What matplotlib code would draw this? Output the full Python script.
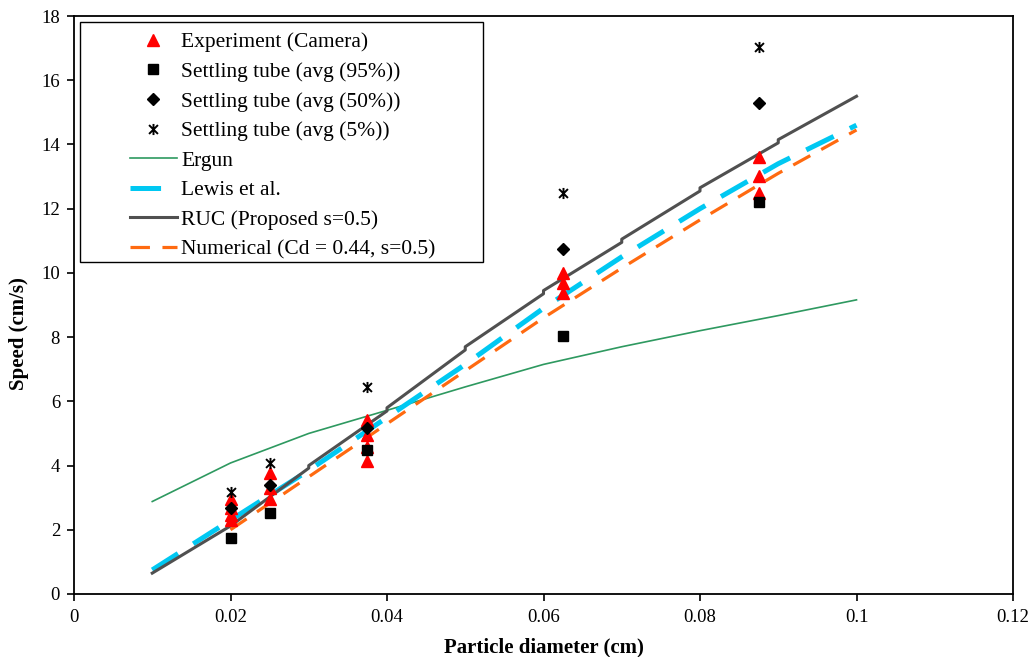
import matplotlib
matplotlib.use("Agg")
import matplotlib.pyplot as plt
from matplotlib.path import Path
from matplotlib.patches import Rectangle
from matplotlib.legend_handler import HandlerLine2D
import numpy as np

plt.rcParams['font.family'] = ['Liberation Serif', 'DejaVu Serif']
plt.rcParams['lines.scale_dashes'] = False

# ---- data ----
exp_x = [0.02, 0.02, 0.02, 0.02, 0.025, 0.025, 0.025,
         0.0375, 0.0375, 0.0375, 0.0375, 0.0625, 0.0625, 0.0625,
         0.0875, 0.0875, 0.0875]
exp_y = [2.96, 2.68, 2.46, 2.3, 3.77, 3.3, 2.96,
         5.42, 4.95, 4.58, 4.15, 10.0, 9.68, 9.37,
         13.62, 13.02, 12.48]

tube_x = [0.02, 0.025, 0.0375, 0.0625, 0.0875]
tube95 = [1.74, 2.52, 4.48, 8.03, 12.22]
tube50 = [2.68, 3.4, 5.17, 10.74, 15.28]
tube5 = [3.18, 4.08, 6.45, 12.49, 17.02]

ergun_x = [0.01, 0.02, 0.03, 0.04, 0.05, 0.06, 0.07, 0.08, 0.09, 0.1]
ergun_y = [2.88, 4.08, 5.0, 5.72, 6.45, 7.15, 7.7, 8.2, 8.67, 9.16]

lewis_x = [0.01, 0.02, 0.03, 0.04, 0.05, 0.06, 0.07, 0.08, 0.09, 0.1]
lewis_y = [0.75, 2.3, 3.85, 5.5, 7.15, 8.9, 10.5, 12.0, 13.4, 14.6]

ruc_x = [0.01, 0.02, 0.03, 0.03, 0.04, 0.04, 0.05, 0.05, 0.06, 0.06,
         0.07, 0.07, 0.08, 0.08, 0.09, 0.09, 0.1]
ruc_y = [0.65, 2.12, 3.92, 4.0, 5.7, 5.8, 7.6, 7.7, 9.35, 9.45,
         10.95, 11.05, 12.55, 12.65, 14.05, 14.15, 15.5]

num_x = [0.02, 0.03, 0.04, 0.05, 0.06, 0.07, 0.08, 0.09, 0.1]
num_y = [2.0, 3.65, 5.3, 6.95, 8.6, 10.15, 11.65, 13.1, 14.45]

labels = ["Experiment (Camera)", "Settling tube (avg (95%))",
          "Settling tube (avg (50%))", "Settling tube (avg (5%))",
          "Ergun", "Lewis et al.", "RUC (Proposed s=0.5)",
          "Numerical (Cd = 0.44, s=0.5)"]

xticks = [0, 0.02, 0.04, 0.06, 0.08, 0.1, 0.12]
xticklabels = ["0", "0.02", "0.04", "0.06", "0.08", "0.1", "0.12"]
yticks = [0, 2, 4, 6, 8, 10, 12, 14, 16, 18]

# star marker: X with vertical bar
star = Path([(-1, -1), (1, 1), (-1, 1), (1, -1), (0, -1.25), (0, 1.25)],
            [Path.MOVETO, Path.LINETO, Path.MOVETO, Path.LINETO, Path.MOVETO, Path.LINETO])

fig = plt.figure(figsize=(10.33, 6.57), dpi=100)
ax = fig.add_axes([74/1033, 63/657, (1013-74)/1033, (594-16)/657])

h_erg, = ax.plot(ergun_x, ergun_y, color='#2e9960', lw=1.2, label=labels[4], zorder=2)
h_lew, = ax.plot(lewis_x, lewis_y, color='#00c8f2', lw=3.6, label=labels[5], zorder=3,
                 dashes=(22, 13), dash_capstyle='butt')
h_ruc, = ax.plot(ruc_x, ruc_y, color='#505050', lw=2.2, label=labels[6], zorder=4)
h_num, = ax.plot(num_x, num_y, color='#ff6a10', lw=2.3, label=labels[7], zorder=3,
                 dashes=(14, 9), dash_capstyle='butt')

h_exp, = ax.plot(exp_x, exp_y, ls='none', marker='^', color='#ff0000', ms=8.5,
                 mec='#ff0000', label=labels[0], zorder=6)
h_95, = ax.plot(tube_x, tube95, ls='none', marker='s', color='black', ms=7.5,
                label=labels[1], zorder=6)
h_50, = ax.plot(tube_x, tube50, ls='none', marker='D', color='black', ms=6,
                label=labels[2], zorder=6)
h_5, = ax.plot(tube_x, tube5, ls='none', marker=star, color='black', ms=8,
               mew=1.4, label=labels[3], zorder=6)

ax.set_xlim(0, 0.12)
ax.set_ylim(0, 18)
ax.set_xticks(xticks)
ax.set_xticklabels(xticklabels)
ax.set_yticks(yticks)
ax.tick_params(axis='both', direction='out', length=5, width=1.2, labelsize=13.5,
               color='black')
ax.tick_params(axis='x', pad=6)
ax.tick_params(axis='y', pad=5)
ax.tick_params(top=False, right=False)
for s in ax.spines.values():
    s.set_linewidth(1.3)
    s.set_color('black')

ax.set_xlabel("Particle diameter (cm)", fontsize=15, fontweight='bold', labelpad=8)
ax.set_ylabel("Speed (cm/s)", fontsize=15, fontweight='bold')
ax.yaxis.set_label_coords(-0.048, 0.45)


class ShiftHandler(HandlerLine2D):
    def create_artists(self, legend, orig_handle, xdescent, ydescent, width,
                       height, fontsize, trans):
        shift = width * 0.5
        return super().create_artists(legend, orig_handle, xdescent - shift,
                                      ydescent, width - shift, height,
                                      fontsize, trans)


handles = [h_exp, h_95, h_50, h_5, h_erg, h_lew, h_ruc, h_num]
hm = {h: ShiftHandler(numpoints=1) if h in (h_exp, h_95, h_50, h_5) else ShiftHandler()
      for h in handles}
leg = ax.legend(handles, labels, loc='upper left', bbox_to_anchor=(0.0032, 0.981),
                borderaxespad=0, fontsize=15.5, frameon=False,
                handlelength=4.4, handletextpad=0.2, labelspacing=0.44,
                borderpad=0.25, handler_map=hm)

# legend frame
fx0, fx1 = (80 - 74) / 939, (483 - 74) / 939
fy0, fy1 = 1 - (262 - 16) / 578, 1 - (22 - 16) / 578
ax.add_patch(Rectangle((fx0, fy0), fx1 - fx0, fy1 - fy0, transform=ax.transAxes,
                       facecolor='white', edgecolor='black', lw=1.0, zorder=7))
leg.set_zorder(8)

fig.savefig("out.png", dpi=100)
